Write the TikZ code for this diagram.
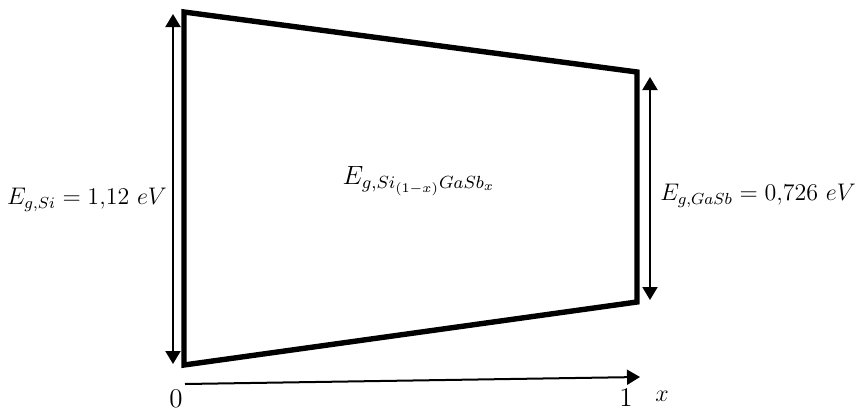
\documentclass[tikz,border=0pt]{standalone}
\usetikzlibrary{arrows.meta}
\begin{document}
\begin{tikzpicture}[x=0.5pt,y=-0.5pt,>={Triangle[length=6.5pt,width=7.5pt]},font=\fontsize{12}{14}\selectfont]
\useasboundingbox (0,0) rectangle (855,412);
% band gap outline
\coordinate (tl) at (184,12);
\coordinate (tr) at (637,72);
\coordinate (br) at (637,302);
\coordinate (bl) at (184,365);
\draw[line width=2.7pt, line join=miter] (tl) -- (tr) -- (br) -- (bl) -- cycle;

% gap arrows
\coordinate (sitop) at (173,14);
\coordinate (sibot) at (173,364);
\coordinate (gatop) at (650,77);
\coordinate (gabot) at (650,300);
\draw[<->, line width=1pt] (sitop) -- (sibot);
\draw[<->, line width=1pt] (gatop) -- (gabot);

% composition axis
\coordinate (xstart) at (185,384);
\coordinate (xend) at (640,377);
\draw[->, line width=1pt] (xstart) -- (xend);

\node (egsi) at (87,200) {$E_{g,Si}=1{,}12\ eV$};
\node[anchor=west, inner sep=0pt] (eggasb) at (660,196) {$E_{g,GaSb}=0{,}726\ eV$};
\node[scale=1.1] (egmix) at (419,181) {$E_{g,Si_{(1-x)}GaSb_x}$};

\node[font=\fontsize{13.5}{15}\selectfont] (zero) at (176,399) {0};
\node[font=\fontsize{13.5}{15}\selectfont] (one) at (626,398) {1};
\node (xlab) at (662,396) {$x$};
\end{tikzpicture}
\end{document}
